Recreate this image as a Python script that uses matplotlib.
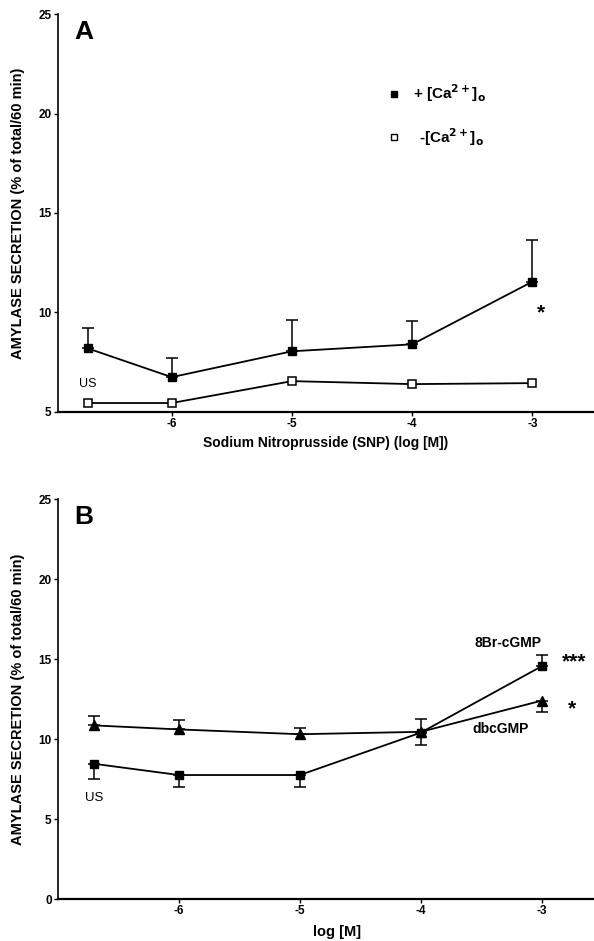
import numpy as np
import matplotlib.pyplot as plt

plt.rcParams['font.family'] = ['Liberation Sans', 'DejaVu Sans']
plt.rcParams['axes.unicode_minus'] = False

# panel A: SNP dose response
xa = np.array([-6.7, -6, -5, -4, -3])
ca_plus = np.array([8.2, 6.75, 8.05, 8.4, 11.55])
ca_plus_err = np.array([1.0, 0.95, 1.55, 1.15, 2.1])
ca_minus = np.array([5.45, 5.45, 6.55, 6.4, 6.45])

# panel B: cGMP analogues
xb = np.array([-6.7, -6, -5, -4, -3])
br_cgmp = np.array([8.45, 7.75, 7.75, 10.4, 14.55])
br_err = np.array([0.95, 0.75, 0.75, 0.85, 0.7])
db_cgmp = np.array([10.85, 10.6, 10.3, 10.45, 12.4])
db_err = np.array([0.6, 0.6, 0.4, 0.85, 0.7])

fig = plt.figure(figsize=(5.94, 9.41), dpi=100)

def style(ax):
    for s in ['top', 'right']:
        ax.spines[s].set_visible(False)
    ax.spines['left'].set_linewidth(1.2)
    ax.spines['bottom'].set_linewidth(1.6)
    ax.tick_params(direction='out', length=3, width=1, pad=1.5)
    for lab in ax.get_xticklabels() + ax.get_yticklabels():
        lab.set_fontsize(8.5)
        lab.set_fontweight('bold')

# ---- A ----
ax = fig.add_axes([0.0976, 0.5622, 0.902, 0.4229])
ax.errorbar(xa, ca_plus, yerr=[np.zeros(5), ca_plus_err], fmt='-s', color='k',
            ms=6, lw=1.3, capsize=4, elinewidth=1.1, capthick=1.1)
ax.plot(xa, ca_minus, '-s', color='k', mfc='white', mew=1.1, ms=6, lw=1.3)
ax.set_xlim(-6.946, -2.49)
ax.set_ylim(5, 25)
ax.set_xticks([-6, -5, -4, -3])
ax.set_yticks([5, 10, 15, 20, 25])
style(ax)
ax.set_xlabel('Sodium Nitroprusside (SNP) (log [M])', fontsize=10,
              fontweight='bold', labelpad=4)
ax.set_ylabel('AMYLASE SECRETION (% of total/60 min)', fontsize=10.5,
              fontweight='bold', labelpad=10)
ax.text(0.03, 0.985, 'A', transform=ax.transAxes, fontsize=19,
        fontweight='bold', va='top')
ax.text(-6.7, 6.4, 'US', fontsize=9, ha='center', va='center')
ax.text(-2.93, 10.0, '*', fontsize=15, fontweight='bold', ha='center', va='center')
ax.plot([-4.15], [21.0], 's', color='k', ms=5)
ax.plot([-4.15], [18.8], 's', color='k', mfc='white', mew=1, ms=5)
ax.text(-3.99, 21.0, r'+ [Ca$^{\mathbf{2+}}$]$_{\mathbf{o}}$', fontsize=11,
        fontweight='bold', va='center')
ax.text(-3.94, 18.8, r'-[Ca$^{\mathbf{2+}}$]$_{\mathbf{o}}$', fontsize=11,
        fontweight='bold', va='center')

# ---- B ----
bx = fig.add_axes([0.0976, 0.0446, 0.902, 0.4251])
bx.errorbar(xb, br_cgmp, yerr=[br_err * np.array([1, 1, 1, 0, 0]),
                               br_err * np.array([0, 0, 0, 1, 1])],
            fmt='-s', color='k', ms=6, lw=1.3, capsize=4, elinewidth=1.1,
            capthick=1.1)
bx.errorbar(xb, db_cgmp, yerr=[db_err * np.array([0, 0, 0, 1, 1]),
                               db_err * np.array([1, 1, 1, 0, 0])],
            fmt='-^', color='k', ms=7, lw=1.3, capsize=4, elinewidth=1.1,
            capthick=1.1)
bx.set_xlim(-7.0, -2.57)
bx.set_ylim(0, 25)
bx.set_xticks([-6, -5, -4, -3])
bx.set_yticks([0, 5, 10, 15, 20, 25])
style(bx)
bx.set_xlabel('log [M]', fontsize=10.5, fontweight='bold')
bx.xaxis.set_label_coords(0.52, -0.065)
bx.set_ylabel('AMYLASE SECRETION (% of total/60 min)', fontsize=10.5,
              fontweight='bold', labelpad=10)
bx.text(0.03, 0.985, 'B', transform=bx.transAxes, fontsize=19,
        fontweight='bold', va='top')
bx.text(-6.7, 6.3, 'US', fontsize=9.5, ha='center', va='center')
bx.text(-3.28, 16.0, '8Br-cGMP', fontsize=10, fontweight='bold', ha='center',
        va='center')
bx.text(-3.34, 10.6, 'dbcGMP', fontsize=10, fontweight='bold', ha='center',
        va='center')
bx.text(-2.73, 14.8, '***', fontsize=15, fontweight='bold', ha='center',
        va='center')
bx.text(-2.75, 11.9, '*', fontsize=15, fontweight='bold', ha='center',
        va='center')

fig.savefig('out.png', dpi=100)
